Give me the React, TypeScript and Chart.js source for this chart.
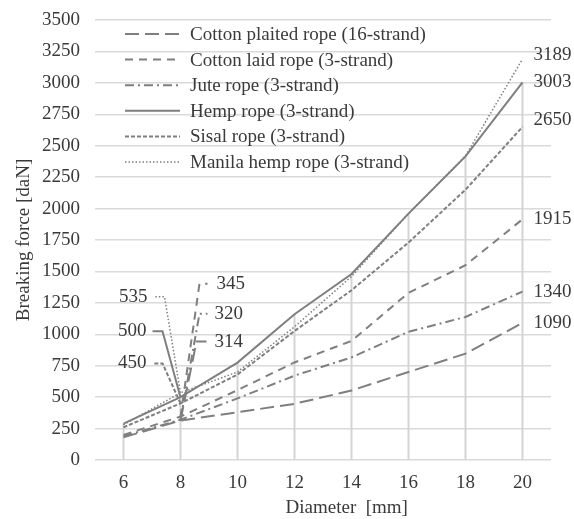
import React, { useEffect, useRef } from "react";
import { Chart, registerables } from "chart.js";

Chart.register(...registerables);

// ---------- data ----------
const diameters = ["6", "8", "10", "12", "14", "16", "18", "20"];
const cottonPlaited = [180, 314, 380, 447, 553, 700, 846, 1090];
const cottonLaid = [200, 345, 556, 776, 947, 1330, 1549, 1915];
const jute = [190, 320, 490, 671, 816, 1020, 1138, 1340];
const hemp = [290, 500, 775, 1160, 1480, 1960, 2415, 3003];
const sisal = [260, 450, 680, 1026, 1350, 1730, 2150, 2650];
const manila = [280, 535, 700, 1060, 1460, 1960, 2420, 3189];

const seriesNames = [
  "Cotton plaited rope (16-strand)",
  "Cotton laid rope (3-strand)",
  "Jute rope (3-strand)",
  "Hemp rope (3-strand)",
  "Sisal rope (3-strand)",
  "Manila hemp rope (3-strand)",
];
const yMin = 0;
const yMax = 3500;
const yStep = 250;
const xTitle = "Diameter  [mm]";
const yTitle = "Breaking force [daN]";

// ---------- styles ----------
const FONT = '"Liberation Serif", "Times New Roman", serif';
const TEXT = "#3a3a3a";
const LINE = "#7f7f7f";
const dashes: number[][] = [[14, 6], [8, 6], [9, 4, 2, 4], [], [4, 2], [1.5, 2]];
const widths = [2, 2, 2, 2, 2, 1.5];

// label placement at index 1 (x = 8)
const midLabels = [
  { side: "right", dy: -79, elbow: 16, end: 26, text: 34 },
  { side: "right", dy: -133, elbow: 19, end: 27, text: 36 },
  { side: "right", dy: -106, elbow: 19, end: 27, text: 34 },
  { side: "left", dy: -66, elbow: 18, end: 28, text: 34 },
  { side: "left", dy: -40, elbow: 18, end: 28, text: 34 },
  { side: "left", dy: -96, elbow: 16, end: 26, text: 33 },
];
const endLabelDy = [0, 0, 0, 0, -7, -4];

const dropLinePlugin = {
  id: "dropLines",
  beforeDatasetsDraw(chart: any) {
    const { ctx, scales } = chart;
    const xs = scales.x;
    const ys = scales.y;
    ctx.save();
    ctx.strokeStyle = "#d4d4d4";
    ctx.lineWidth = 2;
    hemp.forEach((v, i) => {
      const x = xs.getPixelForValue(i);
      ctx.beginPath();
      ctx.moveTo(x, ys.getPixelForValue(0));
      ctx.lineTo(x, ys.getPixelForValue(v));
      ctx.stroke();
    });
    ctx.restore();
  },
};

const labelPlugin = {
  id: "pointLabels",
  afterDatasetsDraw(chart: any) {
    const { ctx } = chart;
    ctx.save();
    ctx.font = `19px ${FONT}`;
    ctx.fillStyle = TEXT;
    ctx.textBaseline = "middle";
    chart.data.datasets.forEach((ds: any, di: number) => {
      const meta = chart.getDatasetMeta(di);
      const p = meta.data[1];
      const cfg = midLabels[di];
      const ty = p.y + cfg.dy;
      const sgn = cfg.side === "left" ? -1 : 1;
      ctx.save();
      ctx.strokeStyle = LINE;
      ctx.lineWidth = ds.borderWidth;
      ctx.setLineDash(ds.borderDash);
      ctx.beginPath();
      ctx.moveTo(p.x, p.y);
      ctx.lineTo(p.x + sgn * cfg.elbow, ty);
      ctx.lineTo(p.x + sgn * cfg.end, ty);
      ctx.stroke();
      ctx.restore();
      ctx.textAlign = cfg.side === "left" ? "right" : "left";
      ctx.fillText(String(ds.data[1]), p.x + sgn * cfg.text, ty);
      const q = meta.data[meta.data.length - 1];
      ctx.textAlign = "left";
      ctx.fillText(String(ds.data[ds.data.length - 1]), q.x + 11, q.y + endLabelDy[di]);
    });
    ctx.restore();
  },
};

const legendPlugin = {
  id: "insideLegend",
  afterDraw(chart: any) {
    const { ctx, chartArea } = chart;
    const x0 = chartArea.left + 30;
    const y0 = chartArea.top + 14;
    const rowH = 25.6;
    ctx.save();
    ctx.font = `19px ${FONT}`;
    ctx.fillStyle = TEXT;
    ctx.textBaseline = "middle";
    ctx.textAlign = "left";
    chart.data.datasets.forEach((ds: any, i: number) => {
      const y = y0 + i * rowH;
      ctx.save();
      ctx.strokeStyle = ds.borderColor;
      ctx.lineWidth = ds.borderWidth;
      ctx.setLineDash(ds.borderDash);
      ctx.beginPath();
      ctx.moveTo(x0, y);
      ctx.lineTo(x0 + 55, y);
      ctx.stroke();
      ctx.restore();
      ctx.fillText(ds.label, x0 + 65, y + 1);
    });
    ctx.restore();
  },
};

export default function App() {
  const ref = useRef<HTMLCanvasElement | null>(null);
  useEffect(() => {
    if (!ref.current) return;
    const series = [cottonPlaited, cottonLaid, jute, hemp, sisal, manila];
    const chart = new Chart(ref.current, {
      type: "line",
      data: {
        labels: diameters,
        datasets: series.map((d, i) => ({
          label: seriesNames[i],
          data: d,
          borderColor: LINE,
          borderWidth: widths[i],
          borderDash: dashes[i],
          pointRadius: 0,
          fill: false,
          tension: 0,
        })),
      },
      options: {
        responsive: false,
        animation: false,
        layout: { padding: { left: 7, top: 20, right: 23, bottom: 0 } },
        plugins: {
          legend: { display: false },
          tooltip: { enabled: false },
        },
        scales: {
          x: {
            type: "category",
            offset: true,
            grid: { display: false },
            border: { display: false },
            ticks: { color: TEXT, font: { family: FONT, size: 19 }, padding: 4 },
            title: {
              display: true,
              text: "          " + xTitle,
              color: TEXT,
              font: { family: FONT, size: 19 },
              padding: { top: 0, bottom: 0 },
            },
            afterFit(scale: any) {
              scale.height = 59;
              scale.paddingLeft = 0;
              scale.paddingRight = 0;
            },
          },
          y: {
            min: yMin,
            max: yMax,
            ticks: {
              stepSize: yStep,
              color: TEXT,
              font: { family: FONT, size: 19 },
              padding: 15,
              callback: (v: any) => String(v),
            },
            grid: { color: "#dadada", lineWidth: 1.5, drawTicks: false },
            border: { display: false },
            title: {
              display: true,
              text: yTitle,
              color: TEXT,
              font: { family: FONT, size: 19 },
              padding: { top: 6, bottom: 4 },
            },
            afterFit(scale: any) {
              scale.width = 88;
              scale.paddingTop = 0;
              scale.paddingBottom = 0;
            },
          },
        },
      },
      plugins: [dropLinePlugin, labelPlugin, legendPlugin],
    } as any);
    return () => chart.destroy();
  }, []);
  return (
    <div style={{ position: "absolute", left: 0, top: 0, width: 574, height: 519, background: "#fff" }}>
      <canvas ref={ref} width={574} height={519} />
    </div>
  );
}
